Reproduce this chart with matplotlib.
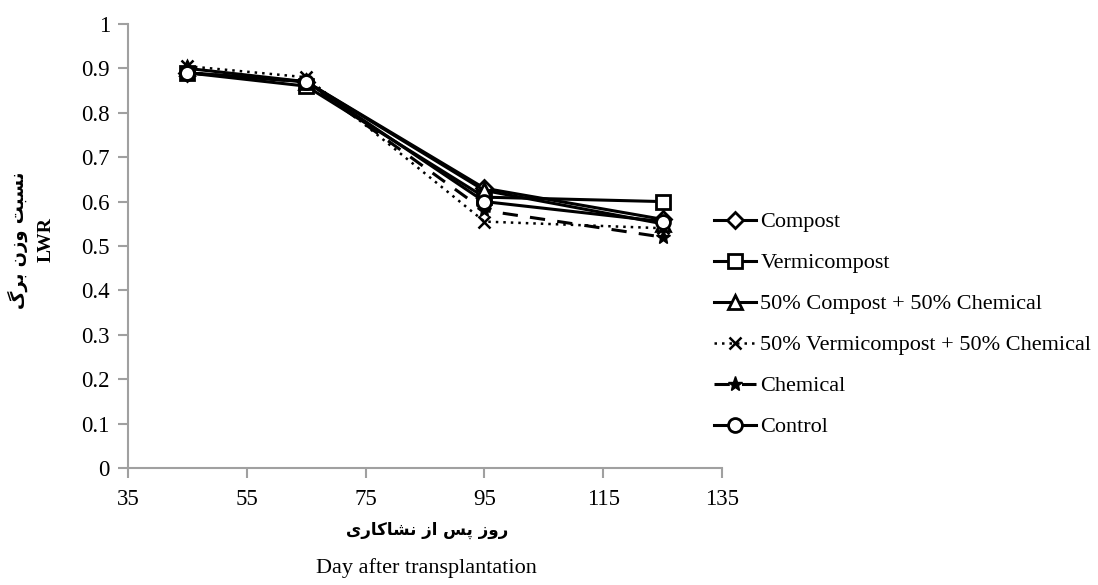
import numpy as np
import matplotlib
matplotlib.use('Agg')
import matplotlib.pyplot as plt

plt.rcParams['font.family'] = ['Liberation Serif', 'DejaVu Sans']

days = [45, 65, 95, 125]
compost = [0.89, 0.87, 0.63, 0.56]
vermicompost = [0.89, 0.86, 0.61, 0.60]
compost_chem = [0.90, 0.87, 0.625, 0.55]
vermi_chem = [0.905, 0.88, 0.555, 0.54]
chemical = [0.89, 0.87, 0.58, 0.52]
control = [0.89, 0.87, 0.60, 0.555]

labels = ['Compost', 'Vermicompost', '50% Compost + 50% Chemical',
          '50% Vermicompost + 50% Chemical', 'Chemical', 'Control']

# persian text written in presentation forms (visual order)
ylab_fa = '\uFB92\uFEAE\uFE91 \uFEE5\uFEAF\uFEED \uFE96\uFE92\uFEB4\uFEE7'
xlab_fa = '\uFBFC\uFEAD\uFE8E\uFB90\uFE8E\uFEB8\uFEE7 \uFEAF\uFE8D \uFEB2\uFB58 \uFEAF\uFEED\uFEAD'

fig = plt.figure(figsize=(10.98, 5.85), dpi=100)
ax = fig.add_axes([0.1166, 0.2, 0.541, 0.759])

lw = 2.2
ax.plot(days, compost, color='black', lw=lw, marker='D', ms=8, mfc='white', mec='black', mew=2, label=labels[0], zorder=3)
ax.plot(days, vermicompost, color='black', lw=lw, marker='s', ms=10, mfc='white', mec='black', mew=2, label=labels[1], zorder=3)
ax.plot(days, compost_chem, color='black', lw=lw, marker='^', ms=10, mfc='white', mec='black', mew=2, label=labels[2], zorder=3)
ax.plot(days, vermi_chem, color='black', lw=1.8, ls=(0, (1, 2)), marker='x', ms=8, mec='black', mew=1.8, label=labels[3], zorder=3)
ax.plot(days, chemical, color='black', lw=lw, ls=(0, (5, 4)), marker='*', ms=11, mfc='black', mec='black', label=labels[4], zorder=3)
ax.plot(days, control, color='black', lw=lw, marker='o', ms=10, mfc='white', mec='black', mew=2, label=labels[5], zorder=4)

ax.set_xlim(35, 135)
ax.set_ylim(0, 1)
ax.set_xticks(np.arange(35, 136, 20))
ax.set_yticks(np.arange(0, 1.01, 0.1))
ax.set_yticklabels(['0'] + ['%.1f' % v for v in np.arange(0.1, 0.95, 0.1)] + ['1'])
for s in ['top', 'right']:
    ax.spines[s].set_visible(False)
for s in ['left', 'bottom']:
    ax.spines[s].set_color('#a0a0a0')
    ax.spines[s].set_linewidth(1.5)
ax.tick_params(axis='both', colors='#a0a0a0', width=1.5, length=7, labelsize=16.5, labelcolor='black', direction='out')
ax.tick_params(axis='y', pad=6)
ax.tick_params(axis='x', pad=8)

leg = fig.legend(loc='center left', bbox_to_anchor=(0.650, 0.445), frameon=False,
                 fontsize=16, handlelength=1.9, handletextpad=0.2, labelspacing=0.92,
                 borderpad=0, borderaxespad=0, numpoints=1)

fig.text(0.016, 0.590, ylab_fa, rotation=90, ha='center', va='center', fontsize=13,
         fontweight='bold', family=['DejaVu Sans'])
fig.text(0.042, 0.590, 'LWR', rotation=90, ha='center', va='center', fontsize=14, fontweight='bold')
fig.text(0.389, 0.094, xlab_fa, ha='center', va='center', fontsize=12,
         fontweight='bold', family=['DejaVu Sans'])
fig.text(0.388, 0.029, 'Day after transplantation', ha='center', va='center', fontsize=16)

fig.savefig('out.png', dpi=100)
